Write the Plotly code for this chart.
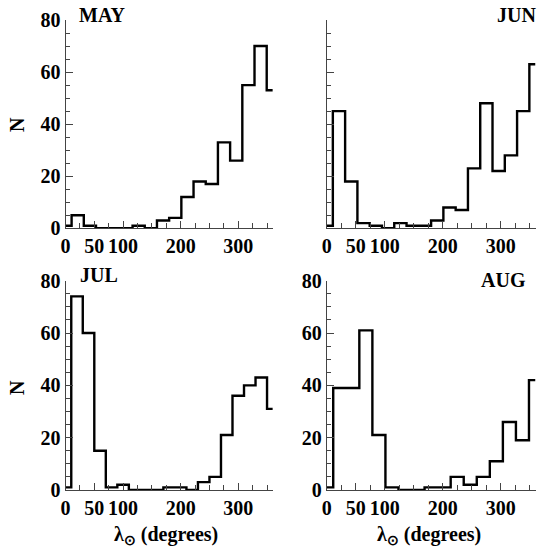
import numpy as np
import plotly.graph_objects as go

# ---- data (counts per solar-longitude bin) ----
months = ["MAY", "JUN", "JUL", "AUG"]
may_counts = [1, 5, 1, 0, 0, 0, 1, 0, 3, 4, 12, 18, 17, 33, 26, 55, 70, 53]
jun_counts = [1, 45, 18, 2, 1, 0, 2, 1, 1, 3, 8, 7, 23, 48, 22, 28, 45, 63]
jul_counts = [1, 74, 60, 15, 1, 2, 0, 0, 0, 1, 1, 0, 3, 5, 21, 36, 40, 43, 31]
aug_counts = [1, 39, 39, 61, 21, 1, 0, 0, 1, 1, 5, 2, 5, 11, 26, 19, 42]
x_tick_vals = [0, 50, 100, 200, 300]
x_tick_text = ["0", "50", "100", "200", "300"]
y_tick_vals = [0, 20, 40, 60, 80]

series = [may_counts, jun_counts, jul_counts, aug_counts]

W, H = 543, 552
FONT = "Liberation Serif"

# plot-area pixel boxes (left, right, top, bottom)
boxes = [
    (65.5, 272.8, 20.0, 228.3),
    (326.7, 535.5, 20.0, 228.3),
    (65.5, 272.8, 280.7, 490.0),
    (326.7, 535.5, 280.7, 490.0),
]

fig = go.Figure()
layout = {}
for i, (counts, box) in enumerate(zip(series, boxes)):
    n = len(counts) - 1
    lon = np.linspace(0, 360, n + 1)  # bin centres, equally spaced over 0-360
    ax = "" if i == 0 else str(i + 1)
    fig.add_trace(go.Scatter(
        x=lon, y=counts, mode="lines", line=dict(shape="hvh", color="black", width=2.4),
        xaxis="x" + ax, yaxis="y" + ax, showlegend=False, hoverinfo="skip"))
    l, r, t, b = box
    layout["xaxis" + ax] = dict(
        domain=[l / W, r / W], range=[0, 360], anchor="y" + ax, automargin=False,
        tickmode="array", tickvals=x_tick_vals, ticktext=x_tick_text,
        ticks="inside", ticklen=7, tickwidth=1, tickcolor="#444",
        minor=dict(dtick=25, tick0=0, ticks="inside", ticklen=5, tickcolor="#444", tickwidth=1),
        showline=True, linecolor="#444", linewidth=1, showgrid=False, zeroline=False,
        tickfont=dict(family=FONT, size=20, color="black", weight="bold"))
    layout["yaxis" + ax] = dict(
        domain=[1 - b / H, 1 - t / H], range=[0, 80], anchor="x" + ax, automargin=False,
        tickmode="array", tickvals=y_tick_vals,
        ticks="inside", ticklen=7, tickwidth=1, tickcolor="#444",
        minor=dict(dtick=5, tick0=0, ticks="inside", ticklen=4, tickcolor="#444", tickwidth=1),
        showline=True, linecolor="#444", linewidth=1, showgrid=False, zeroline=False,
        showticklabels=(i != 1),
        tickfont=dict(family=FONT, size=20, color="black", weight="bold"))

tfont = dict(family=FONT, size=20, color="black", weight="bold")
ann = [
    dict(text=months[0], x=102 / W, y=1 - 15 / H, xanchor="center", yanchor="middle"),
    dict(text=months[1], x=538 / W, y=1 - 15 / H, xanchor="right", yanchor="middle"),
    dict(text=months[2], x=99 / W, y=1 - 275 / H, xanchor="center", yanchor="middle"),
    dict(text=months[3], x=528 / W, y=1 - 280 / H, xanchor="right", yanchor="middle"),
    dict(text="N", x=17 / W, y=1 - 125 / H, xanchor="center", yanchor="middle", textangle=-90),
    dict(text="N", x=17 / W, y=1 - 388 / H, xanchor="center", yanchor="middle", textangle=-90),
    dict(text="λ<sub>⊙</sub> (degrees)", x=166 / W, y=1 - 535 / H, xanchor="center", yanchor="middle"),
    dict(text="λ<sub>⊙</sub> (degrees)", x=429 / W, y=1 - 535 / H, xanchor="center", yanchor="middle"),
]
for a in ann:
    a.update(xref="paper", yref="paper", showarrow=False, font=tfont)

fig.update_layout(
    template="none",
    width=W, height=H, margin=dict(l=0, r=0, t=0, b=0),
    paper_bgcolor="white", plot_bgcolor="white",
    annotations=ann, **layout)

fig.write_html(
    "out.html",
    config={"displayModeBar": False},
    post_script="document.body.style.margin='0';document.body.style.overflow='hidden';",
)
